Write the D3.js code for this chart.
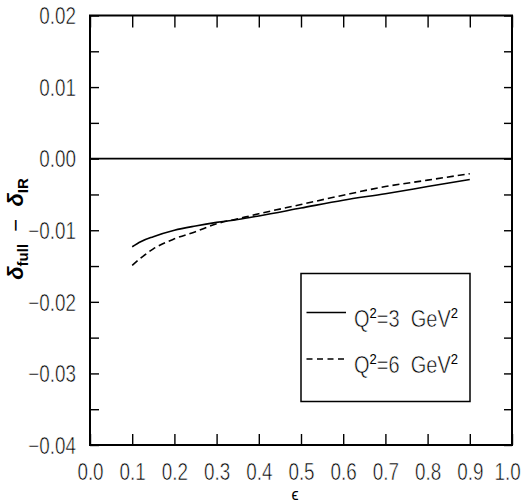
<!DOCTYPE html>
<html>
<head>
<meta charset="utf-8">
<script src="https://cdn.jsdelivr.net/npm/d3@7"></script>
<style>
  html, body { margin: 0; padding: 0; background: #fff; }
  svg { display: block; }
  text { font-family: "Liberation Sans", Arial, sans-serif; fill: #000; }
</style>
</head>
<body>
<svg id="chart" width="523" height="504"></svg>
<script>
// epsilon grid and the two radiative-correction differences
const epsValues = [0.10, 0.12, 0.15, 0.20, 0.25, 0.30, 0.35, 0.40, 0.50, 0.60, 0.70, 0.80, 0.90];
const deltaQ2_3 = [-0.0123, -0.0116, -0.0109, -0.0100, -0.0094, -0.0089, -0.0085, -0.0080, -0.0069, -0.0058, -0.0049, -0.0039, -0.0029];
const deltaQ2_6 = [-0.0149, -0.0139, -0.0126, -0.0112, -0.0102, -0.0091, -0.0084, -0.0077, -0.0064, -0.0051, -0.0039, -0.0030, -0.0021];

const seriesNames = ["3", "6"];
const xTickValues = [0.0, 0.1, 0.2, 0.3, 0.4, 0.5, 0.6, 0.7, 0.8, 0.9, 1.0];
const yTickValues = [0.02, 0.015, 0.01, 0.005, 0.0, -0.005, -0.01, -0.015, -0.02, -0.025, -0.03, -0.035, -0.04];
const yLabelValues = [0.02, 0.01, 0.0, -0.01, -0.02, -0.03, -0.04];

const svg = d3.select("#chart");
const plot = { left: 90, right: 512, top: 15.5, bottom: 445 };

const x = d3.scaleLinear().domain([0, 1]).range([plot.left, plot.right]);
const y = d3.scaleLinear().domain([-0.04, 0.02]).range([plot.bottom, plot.top]);

const isLabelled = v => yLabelValues.some(l => Math.abs(l - v) < 1e-9);
const fmtY = d3.format(".2f");
const fmtX = d3.format(".1f");
const squeeze = 0.82;

// bottom axis: inward ticks with labels
const gx = svg.append("g")
  .attr("transform", `translate(0,${plot.bottom})`)
  .call(d3.axisBottom(x).tickValues(xTickValues).tickSize(-11).tickSizeOuter(0)
    .tickPadding(18.5).tickFormat(fmtX));

// top axis: ticks only
const gxt = svg.append("g")
  .attr("transform", `translate(0,${plot.top})`)
  .call(d3.axisTop(x).tickValues(xTickValues).tickSize(-12).tickSizeOuter(0).tickFormat(""));

// left axis: inward ticks every 0.005, labels every 0.01
const gy = svg.append("g")
  .attr("transform", `translate(${plot.left},0)`)
  .call(d3.axisLeft(y).tickValues(yTickValues).tickSize(-9).tickSizeOuter(0)
    .tickPadding(14).tickFormat(v => isLabelled(v) ? fmtY(v) : ""));

// right axis: ticks only
const gyr = svg.append("g")
  .attr("transform", `translate(${plot.right},0)`)
  .call(d3.axisRight(y).tickValues(yTickValues).tickSize(-8).tickSizeOuter(0).tickFormat(""));

[gx, gxt, gy, gyr].forEach(g => {
  g.select(".domain").remove();
  g.selectAll(".tick line").attr("stroke", "#000").attr("stroke-width", 1.4);
  g.selectAll("text").attr("font-size", 23).attr("font-family", "Liberation Sans, Arial, sans-serif")
    .attr("fill", "#000");
});

// thin, narrow numerals: horizontal squeeze plus a light white edge
gx.selectAll("text")
  .attr("transform", `scale(${squeeze},1)`)
  .attr("stroke", "#fff").attr("stroke-width", 0.55);
// last bottom label sits a little inside the page edge
gx.selectAll("text").filter(d => d === 1.0).attr("x", -5 / squeeze);

gy.selectAll("text")
  .attr("dy", "0.36em")
  .attr("x", -14 / squeeze)
  .attr("transform", `scale(${squeeze},1)`)
  .attr("stroke", "#fff").attr("stroke-width", 0.55);

// frame
svg.append("rect")
  .attr("x", plot.left).attr("y", plot.top)
  .attr("width", plot.right - plot.left).attr("height", plot.bottom - plot.top)
  .attr("fill", "none").attr("stroke", "#000").attr("stroke-width", 2);

// zero line
svg.append("line")
  .attr("x1", x(0)).attr("x2", x(1)).attr("y1", y(0)).attr("y2", y(0))
  .attr("stroke", "#000").attr("stroke-width", 1.8);

// curves
const line = d3.line()
  .x(d => x(d[0])).y(d => y(d[1]))
  .curve(d3.curveMonotoneX);

const series = [
  { name: seriesNames[0], values: deltaQ2_3, dash: null },
  { name: seriesNames[1], values: deltaQ2_6, dash: "7,4" }
];

series.forEach(s => {
  svg.append("path")
    .datum(epsValues.map((e, i) => [e, s.values[i]]))
    .attr("d", line)
    .attr("fill", "none")
    .attr("stroke", "#000")
    .attr("stroke-width", 1.6)
    .attr("stroke-dasharray", s.dash);
});

// legend
const legend = svg.append("g");
legend.append("rect")
  .attr("x", 301).attr("y", 273.5).attr("width", 169).attr("height", 128)
  .attr("fill", "#fff").attr("stroke", "#000").attr("stroke-width", 1.5);

const legendRows = [{ y: 312.5, s: series[0] }, { y: 359, s: series[1] }];
legendRows.forEach(r => {
  legend.append("line")
    .attr("x1", 306.5).attr("x2", r.s.dash ? 347 : 346).attr("y1", r.y).attr("y2", r.y)
    .attr("stroke", "#000").attr("stroke-width", 1.5)
    .attr("stroke-dasharray", r.s.dash ? "6,4.5" : null);
  // label squeezed horizontally as one unit
  const t = legend.append("g")
    .attr("transform", `translate(354,${r.y + 14}) scale(0.87,1)`)
    .append("text")
    .attr("font-size", 23)
    .attr("stroke", "#fff").attr("stroke-width", 0.55)
    .style("white-space", "pre");
  t.append("tspan").text("Q");
  t.append("tspan").attr("font-size", 15).attr("dy", -9).attr("stroke", "none").text("2");
  t.append("tspan").attr("dy", 9).text(`=${r.s.name}  GeV`);
  t.append("tspan").attr("font-size", 15).attr("dy", -9).attr("stroke", "none").text("2");
});

// y-axis title
const yt = svg.append("text")
  .attr("transform", "translate(23,229) rotate(-90)")
  .attr("text-anchor", "middle")
  .attr("font-size", 22)
  .style("white-space", "pre");
yt.append("tspan").attr("font-style", "italic").attr("font-weight", "bold").text("δ");
yt.append("tspan").attr("font-size", 15).attr("font-weight", "bold").attr("dy", 5).text("full");
yt.append("tspan").attr("dy", -5).text("  −  ");
yt.append("tspan").attr("font-style", "italic").attr("font-weight", "bold").text("δ");
yt.append("tspan").attr("font-size", 15).attr("font-weight", "bold").attr("dy", 5).text("IR");

// x-axis title
svg.append("text")
  .attr("x", 295).attr("y", 500)
  .attr("text-anchor", "middle")
  .attr("font-size", 16)
  .attr("font-family", "DejaVu Sans, sans-serif")
  .text("ϵ");
</script>
</body>
</html>
